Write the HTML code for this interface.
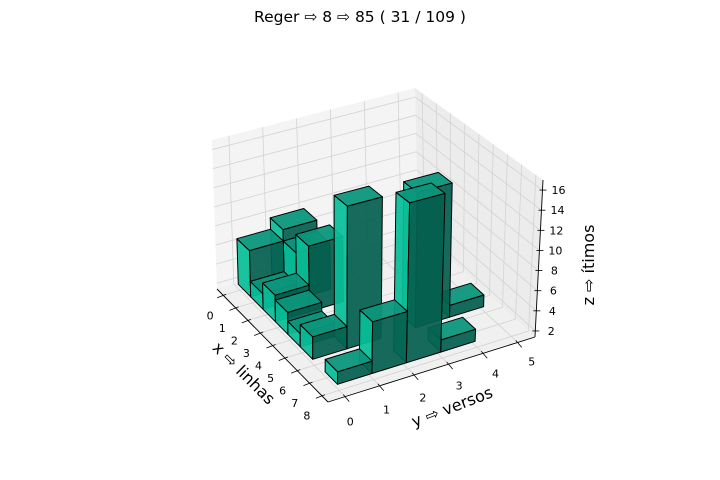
<!DOCTYPE html>
<html><head><meta charset="utf-8"><style>
body{margin:0;background:#fff}
svg{display:block}
text{font-family:"DejaVu Sans","Liberation Sans",sans-serif;fill:#000}
</style></head><body>
<svg id="chart" width="720" height="480" viewBox="0 0 720 480" xmlns="http://www.w3.org/2000/svg">
<rect width="720" height="480" fill="#fff"/>
<text x="360" y="22" text-anchor="middle" font-size="15.5">Reger ⇨ 8 ⇨ 85 ( 31 / 109 )</text>
<g id="panes"></g><g id="axes"></g><g id="bars"></g>
<text transform="translate(240,377) rotate(45)" text-anchor="middle" font-size="16">x ⇨ linhas</text>
<text transform="translate(454,412) rotate(-21)" text-anchor="middle" font-size="16">y ⇨ versos</text>
<text transform="translate(594,265) rotate(-90)" text-anchor="middle" font-size="16">z ⇨ ítimos</text>
</svg>
<script>
const barX = [0,0,1,1,2,2,3,4,5,5,5,7,7,7,7,5];
const barY = [0,1,0,1,0,1,0,0,0,1,3,0,1,2,3,4];
const barZ = [6.2,7.4,3,6.2,4.1,8.1,3.6,2.7,3.6,15.5,15.0,2.6,6.4,17,2.6,2.6];
const xTicks = [0,1,2,3,4,5,6,7,8];
const yTicks = [0,1,2,3,4,5];
const zTicks = [2,4,6,8,10,12,14,16];

const X0=-0.5,X1=8.5,Y0=-0.5,Y1=5.5,Z0=1.4,Z1=17;
const C={L:[217,289],F:[328,402],R:[535,337],B:[418,230]};
const Hc={L:149,F:165,R:157,B:142};
const Dc={L:-5,F:1,R:8,B:-3};
function P(x,y,z){
  const u=(x-X0)/(X1-X0), v=(y-Y0)/(Y1-Y0);
  const wL=(1-u)*(1-v), wF=u*(1-v), wR=u*v, wB=(1-u)*v;
  const fx=C.L[0]*wL+C.F[0]*wF+C.R[0]*wR+C.B[0]*wB;
  const fy=C.L[1]*wL+C.F[1]*wF+C.R[1]*wR+C.B[1]*wB;
  const H=Hc.L*wL+Hc.F*wF+Hc.R*wR+Hc.B*wB;
  const D=Dc.L*wL+Dc.F*wF+Dc.R*wR+Dc.B*wB;
  const t=(z-Z0)/(Z1-Z0);
  return [fx+D*t, fy-H*t];
}
const NS="http://www.w3.org/2000/svg";
function poly(g,pts,fill,stroke,sw){
  const e=document.createElementNS(NS,"polygon");
  e.setAttribute("points",pts.map(p=>p[0].toFixed(1)+","+p[1].toFixed(1)).join(" "));
  e.setAttribute("fill",fill);
  if(stroke){e.setAttribute("stroke",stroke);e.setAttribute("stroke-width",sw);e.setAttribute("stroke-linejoin","round");}
  g.appendChild(e);return e;
}
function line(g,a,b,col,w){
  const e=document.createElementNS(NS,"line");
  e.setAttribute("x1",a[0]);e.setAttribute("y1",a[1]);e.setAttribute("x2",b[0]);e.setAttribute("y2",b[1]);
  e.setAttribute("stroke",col);e.setAttribute("stroke-width",w);
  g.appendChild(e);return e;
}
function txt(g,x,y,s,size){
  const e=document.createElementNS(NS,"text");
  e.setAttribute("x",x);e.setAttribute("y",y);e.setAttribute("text-anchor","middle");e.setAttribute("font-size",size);
  e.textContent=s;g.appendChild(e);return e;
}
const panes=document.getElementById("panes");
let e;
e=poly(panes,[P(X0,Y0,Z0),P(X0,Y1,Z0),P(X0,Y1,Z1),P(X0,Y0,Z1)],"#f4f4f4");


e=poly(panes,[P(X0,Y1,Z0),P(X1,Y1,Z0),P(X1,Y1,Z1),P(X0,Y1,Z1)],"#ececec");


e=poly(panes,[P(X0,Y0,Z0),P(X1,Y0,Z0),P(X1,Y1,Z0),P(X0,Y1,Z0)],"#f0f0f0");


const gc="#d3d3d3";
xTicks.forEach(t=>{
  e=line(panes,P(t,Y0,Z0),P(t,Y1,Z0),gc,0.8);
  
  
  e=line(panes,P(t,Y1,Z0),P(t,Y1,Z1),gc,0.8);
  
  
});
yTicks.forEach(t=>{
  e=line(panes,P(X0,t,Z0),P(X1,t,Z0),gc,0.8);
  
  
  e=line(panes,P(X0,t,Z0),P(X0,t,Z1),gc,0.8);
  
  
});
zTicks.forEach(t=>{
  e=line(panes,P(X0,Y0,t),P(X0,Y1,t),gc,0.8);
  
  
  e=line(panes,P(X0,Y1,t),P(X1,Y1,t),gc,0.8);
  
  
});
const axes=document.getElementById("axes");
e=line(axes,P(X0,Y0,Z0),P(X1,Y0,Z0),"#000",0.9);


e=line(axes,P(X1,Y0,Z0),P(X1,Y1,Z0),"#000",0.9);


e=line(axes,P(X1,Y1,Z0),P(X1,Y1,Z1),"#000",0.9);


xTicks.forEach(t=>{
  const a=P(t,Y0,Z0);
  e=line(axes,[a[0]+3,a[1]-1],[a[0]-6,a[1]+2.5],"#000",0.8);
  
  
  const f=t/8;
  e=txt(axes,a[0]-13-2*f,a[1]+24,String(t),11);
  
  
});
yTicks.forEach(t=>{
  const a=P(X1,t,Z0);
  e=line(axes,[a[0]-2,a[1]-2],[a[0]+4,a[1]+5],"#000",0.8);
  
  
  const f=t/5;
  e=txt(axes,a[0]+5+9*f,a[1]+29-6*f,String(t),11);
  
  
});
zTicks.forEach(t=>{
  const a=P(X1,Y1,t);
  e=line(axes,[a[0]-3,a[1]],[a[0]+4,a[1]],"#000",0.8);
  
  
  e=txt(axes,a[0]+16,a[1]+4,String(t),11);
  
  
});
const bars=document.getElementById("bars");
const idx=barX.map((_,i)=>i).sort((a,b)=>(barX[a]-barY[a]*1.2)-(barX[b]-barY[b]*1.2));
idx.forEach(i=>{
  const x0=barX[i]-0.4,x1=barX[i]+0.6,y0=barY[i]+0.1,y1=barY[i]+1.1,zb=Z0,zt=barZ[i];
  const g=document.createElementNS(NS,"g");
  
  
  poly(g,[P(x0,y0,zb),P(x1,y0,zb),P(x1,y0,zt),P(x0,y0,zt)],"rgba(8,190,153,0.93)","#000",1);
  poly(g,[P(x1,y0,zb),P(x1,y1,zb),P(x1,y1,zt),P(x1,y0,zt)],"rgba(5,96,80,0.93)","#000",1);
  poly(g,[P(x0,y0,zt),P(x1,y0,zt),P(x1,y1,zt),P(x0,y1,zt)],"rgba(12,150,124,0.95)","#000",1);
  bars.appendChild(g);
});
</script>
</body></html>
